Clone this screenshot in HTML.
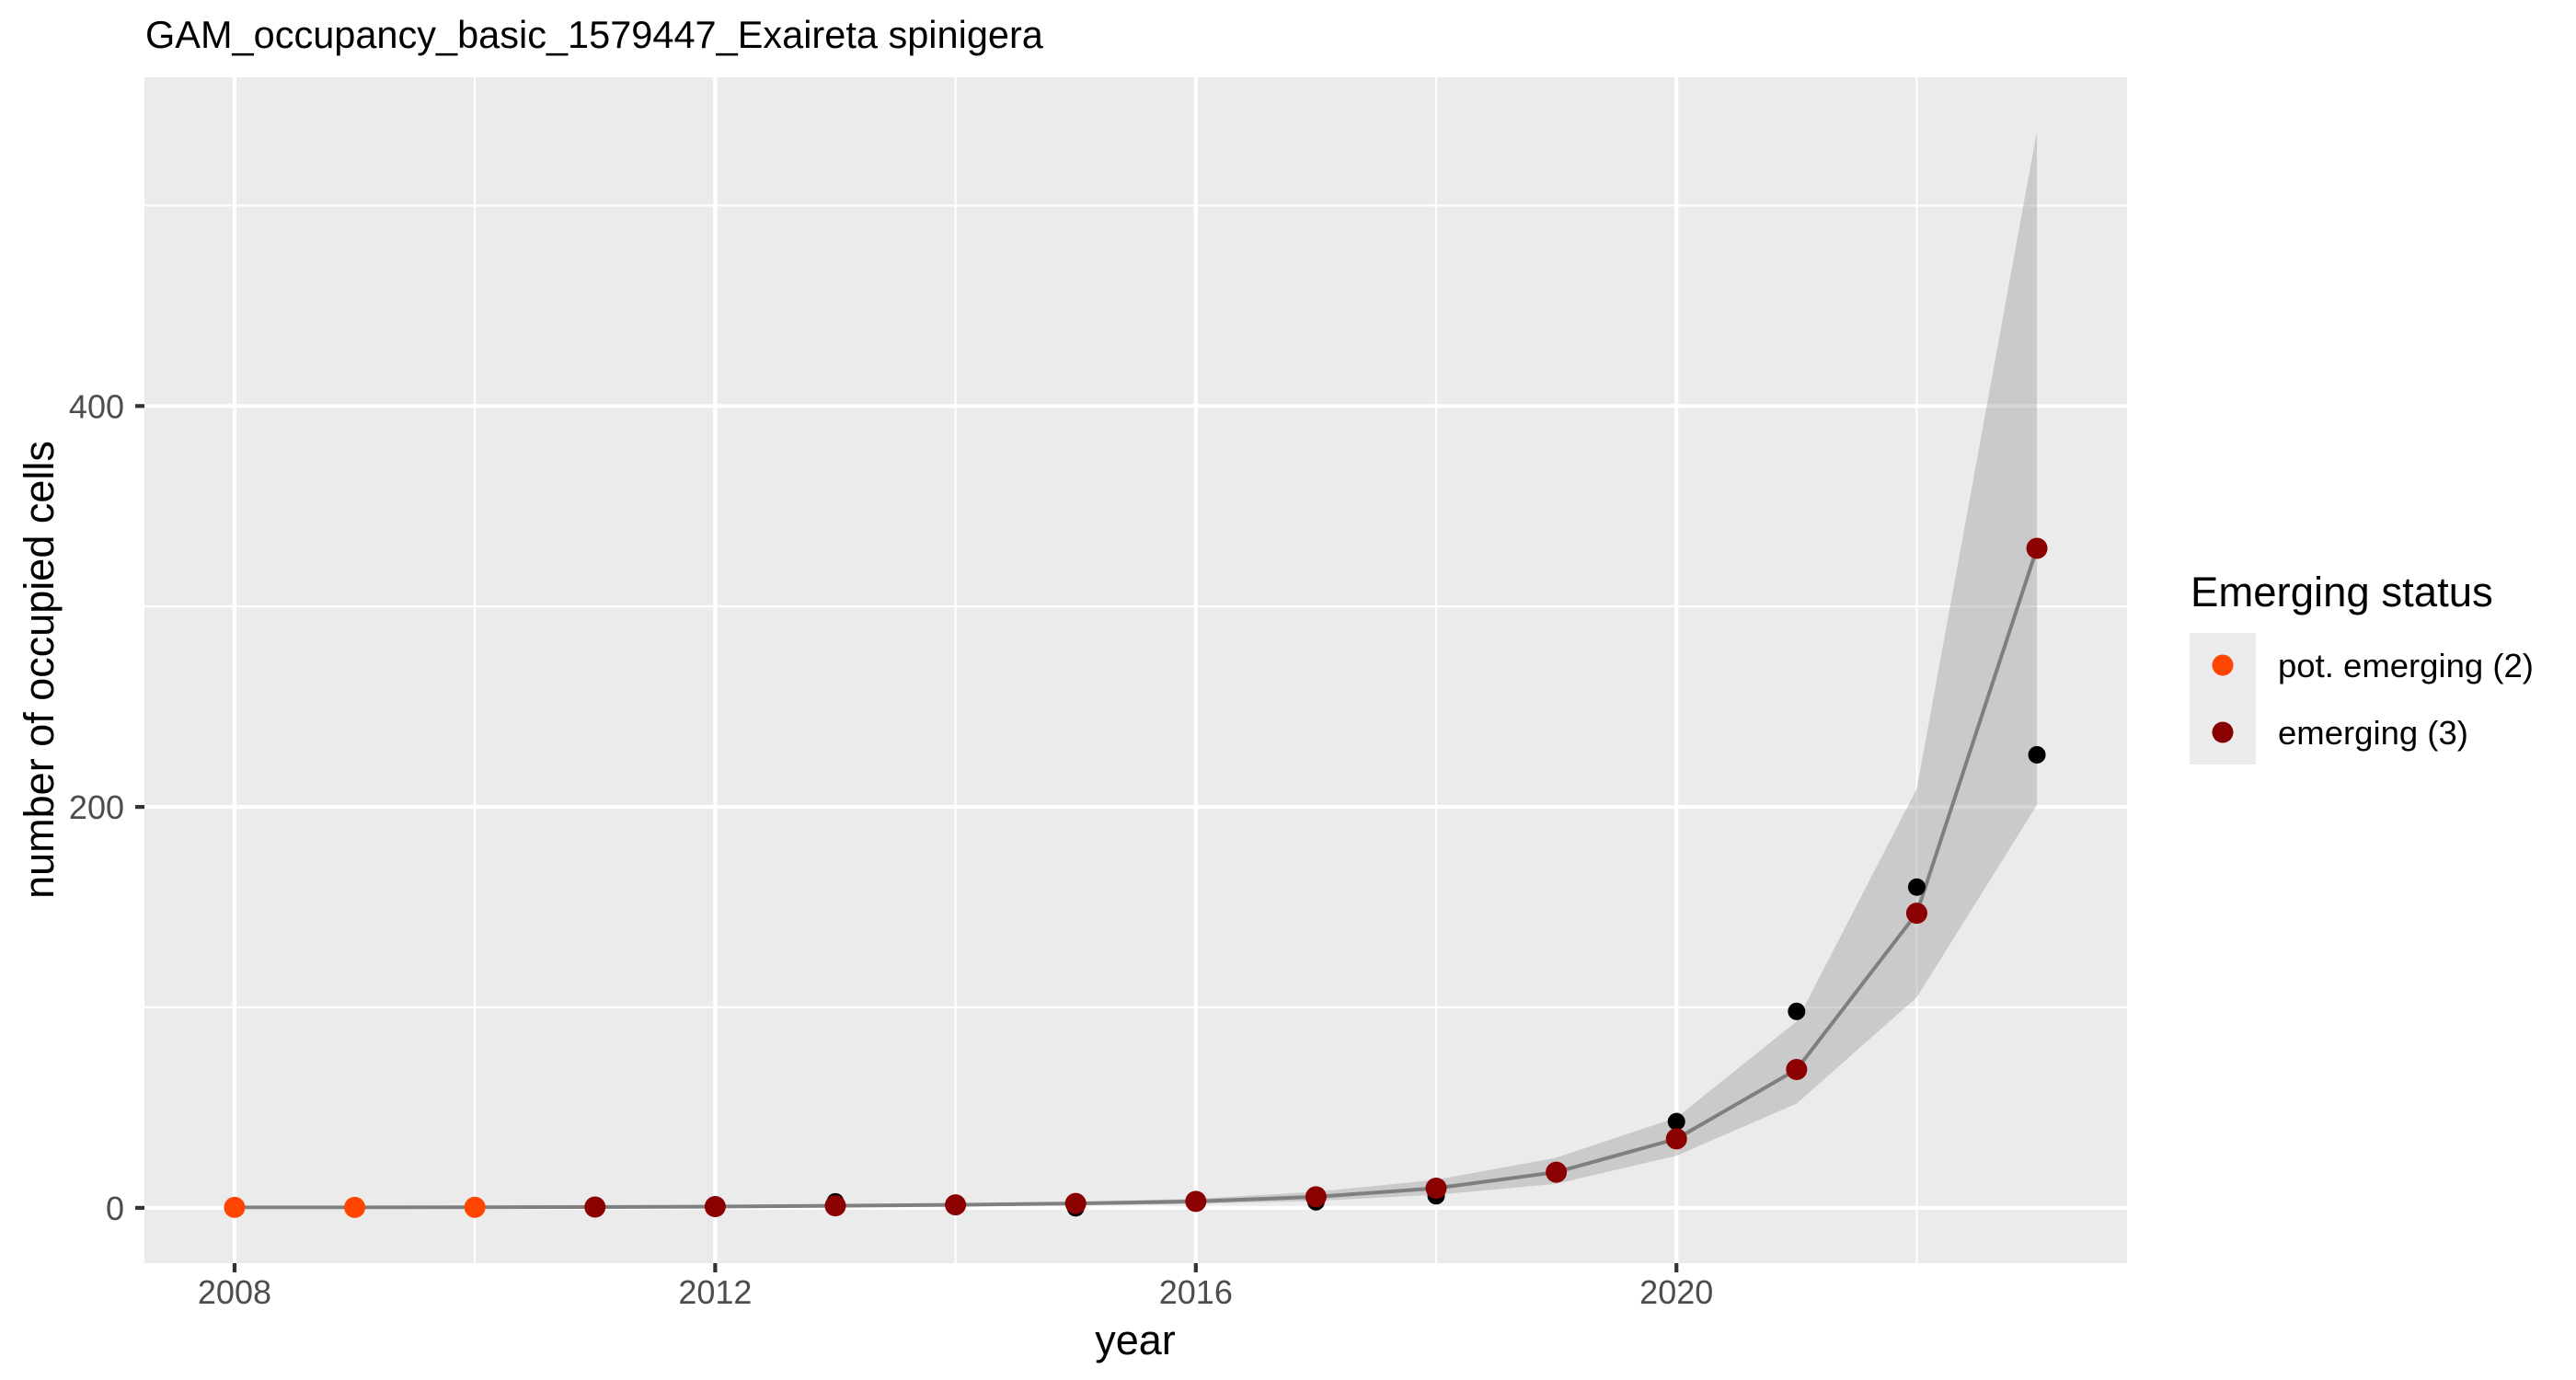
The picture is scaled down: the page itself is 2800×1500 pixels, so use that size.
<!DOCTYPE html>
<html><head><meta charset="utf-8"><style>
html,body{margin:0;padding:0;background:#fff;}
svg{display:block;font-family:"Liberation Sans",sans-serif;}
</style></head><body>
<svg id="chart" width="2800" height="1500" viewBox="0 0 2800 1500" xmlns="http://www.w3.org/2000/svg">
<rect width="2800" height="1500" fill="#fff"/>
<text x="158" y="52" font-size="41.5" fill="#000">GAM_occupancy_basic_1579447_Exaireta spinigera</text>
<rect x="157" y="84" width="2155" height="1289" fill="#ebebeb"/>
<g id="grid"></g>
<g id="series"></g>
<g id="axes"></g>
<text x="1234" y="1472" font-size="45" text-anchor="middle" fill="#000">year</text>
<text transform="translate(58,728) rotate(-90)" font-size="45" text-anchor="middle" fill="#000">number of occupied cells</text>
<g>
<text x="2381" y="659" font-size="45.5" fill="#000">Emerging status</text>
<rect x="2380" y="688" width="72" height="143" fill="#ebebeb"/>
<circle cx="2416" cy="723" r="11.5" fill="#FF4500"/>
<text x="2476" y="736" font-size="36.5" fill="#000">pot. emerging (2)</text>
<circle cx="2416" cy="796" r="11.5" fill="#8B0000"/>
<text x="2476" y="809" font-size="36.5" fill="#000">emerging (3)</text>
</g>
</svg>
<script>
const years = [2008,2009,2010,2011,2012,2013,2014,2015,2016,2017,2018,2019,2020,2021,2022,2023];
const fitted = [0.2,0.2,0.3,0.4,0.6,1,1.5,2.2,3.2,5.5,9.8,17.8,34.4,69,147,329];
const lower = [0,0,0,0.1,0.2,0.5,0.9,1.3,2,3.5,6.5,12,26,52,105,201];
const upper = [0.8,0.7,0.7,0.8,1,1.5,2.2,3,4.5,8,14,25,45,93,209,537];
const observed = [0,0,0,0,0,3,1,0,3,3,6,17,43,98,160,226];
const status = ['pot','pot','pot','em','em','em','em','em','em','em','em','em','em','em','em','em'];
const xTicks = [2008,2012,2016,2020];
const xMinor = [2010,2014,2018,2022];
const yTicks = [0,200,400];
const yMinor = [100,300,500];

const NS='http://www.w3.org/2000/svg';
const X0=157,X1=2312,Y0=84,Y1=1373;
const xDom=[2007.25,2023.75], yDom=[-27.6,564];
function xs(v){return X0+(v-xDom[0])/(xDom[1]-xDom[0])*(X1-X0);}
function ys(v){return Y1-(v-yDom[0])/(yDom[1]-yDom[0])*(Y1-Y0);}
function mk(tag,attrs,parent){const e=document.createElementNS(NS,tag);for(const k in attrs)e.setAttribute(k,attrs[k]);parent.appendChild(e);return e;}
const grid=document.getElementById('grid'),series=document.getElementById('series'),axes=document.getElementById('axes');

yMinor.forEach(v=>{const l=mk('line',{x1:X0,x2:X1,y1:ys(v),y2:ys(v),stroke:'#fff','stroke-width':2.1},grid);

});
xMinor.forEach(v=>{const l=mk('line',{x1:xs(v),x2:xs(v),y1:Y0,y2:Y1,stroke:'#fff','stroke-width':2.1},grid);

});
yTicks.forEach(v=>{const l=mk('line',{x1:X0,x2:X1,y1:ys(v),y2:ys(v),stroke:'#fff','stroke-width':4.2},grid);


const t=mk('line',{x1:X0-10,x2:X0,y1:ys(v),y2:ys(v),stroke:'#333','stroke-width':4.2},axes);


const tx=mk('text',{x:X0-22,y:ys(v)+13,'font-size':36,fill:'#4d4d4d','text-anchor':'end'},axes);tx.textContent=v;

});
xTicks.forEach(v=>{const l=mk('line',{x1:xs(v),x2:xs(v),y1:Y0,y2:Y1,stroke:'#fff','stroke-width':4.2},grid);


const t=mk('line',{x1:xs(v),x2:xs(v),y1:Y1,y2:Y1+10,stroke:'#333','stroke-width':4.2},axes);


const tx=mk('text',{x:xs(v),y:Y1+44,'font-size':36,fill:'#4d4d4d','text-anchor':'middle'},axes);tx.textContent=v;

});

let pts=years.map((y,i)=>xs(y)+','+ys(upper[i]));
for(let i=years.length-1;i>=0;i--)pts.push(xs(years[i])+','+ys(lower[i]));
const rib=mk('polygon',{points:pts.join(' '),fill:'#999','fill-opacity':0.4},series);


const ln=mk('polyline',{points:years.map((y,i)=>xs(y)+','+ys(fitted[i])).join(' '),fill:'none',stroke:'#7f7f7f','stroke-width':4},series);


years.forEach((y,i)=>{const c=mk('circle',{cx:xs(y),cy:ys(observed[i]),r:9.5,fill:'#000'},series);

});
years.forEach((y,i)=>{const c=mk('circle',{cx:xs(y),cy:ys(fitted[i]),r:11.5,fill:status[i]==='pot'?'#FF4500':'#8B0000'},series);

});
</script>
</body></html>
